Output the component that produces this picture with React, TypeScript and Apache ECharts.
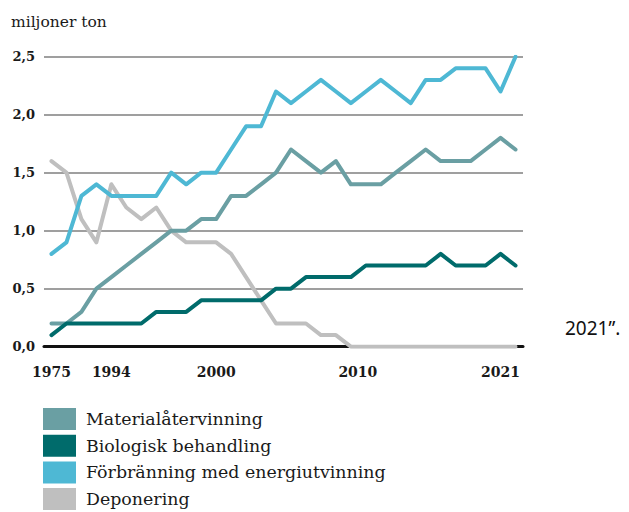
import React, { useEffect, useRef } from "react";
import * as echarts from "echarts";

const years: string[] = [
  "1975", "1980", "1985", "1990",
  "1994", "1995", "1996", "1997", "1998", "1999", "2000",
  "2001", "2002", "2003", "2004", "2005", "2006", "2007", "2008", "2009", "2010",
  "2011", "2012", "2013", "2014", "2015", "2016", "2017", "2018", "2019", "2020", "2021",
];
const shownYears: string[] = ["1975", "1994", "2000", "2010", "2021"];
const yTicks: number[] = [0, 0.5, 1, 1.5, 2, 2.5];

const material: number[] = [0.2, 0.2, 0.3, 0.5, 0.6, 0.7, 0.8, 0.9, 1.0, 1.0, 1.1, 1.1, 1.3, 1.3, 1.4, 1.5, 1.7, 1.6, 1.5, 1.6, 1.4, 1.4, 1.4, 1.5, 1.6, 1.7, 1.6, 1.6, 1.6, 1.7, 1.8, 1.7];
const biologisk: number[] = [0.1, 0.2, 0.2, 0.2, 0.2, 0.2, 0.2, 0.3, 0.3, 0.3, 0.4, 0.4, 0.4, 0.4, 0.4, 0.5, 0.5, 0.6, 0.6, 0.6, 0.6, 0.7, 0.7, 0.7, 0.7, 0.7, 0.8, 0.7, 0.7, 0.7, 0.8, 0.7];
const forbranning: number[] = [0.8, 0.9, 1.3, 1.4, 1.3, 1.3, 1.3, 1.3, 1.5, 1.4, 1.5, 1.5, 1.7, 1.9, 1.9, 2.2, 2.1, 2.2, 2.3, 2.2, 2.1, 2.2, 2.3, 2.2, 2.1, 2.3, 2.3, 2.4, 2.4, 2.4, 2.2, 2.5];
const deponering: number[] = [1.6, 1.5, 1.1, 0.9, 1.4, 1.2, 1.1, 1.2, 1.0, 0.9, 0.9, 0.9, 0.8, 0.6, 0.4, 0.2, 0.2, 0.2, 0.1, 0.1, 0, 0, 0, 0, 0, 0, 0, 0, 0, 0, 0, 0];

const seriesNames: string[] = [
  "Materialåtervinning",
  "Biologisk behandling",
  "Förbränning med energiutvinning",
  "Deponering",
];
const colors: string[] = ["#6a9fa3", "#006b6b", "#4eb8d4", "#bfbfbf"];

const serif = "DejaVu Serif";

export default function App() {
  const ref = useRef<HTMLDivElement>(null);
  useEffect(() => {
    if (!ref.current) return;
    const chart = echarts.init(ref.current, null, { renderer: "svg" });
    const datasets = [material, biologisk, forbranning, deponering];
    const zs = [3, 4, 5, 2];
    chart.setOption({
      animation: false,
      backgroundColor: "#ffffff",
      grid: { left: 44, right: 106, top: 56.7, bottom: 165.3, containLabel: false },
      legend: {
        orient: "vertical",
        left: 43,
        top: 408,
        height: 140,
        padding: 0,
        itemWidth: 33,
        itemHeight: 22,
        itemGap: 4.7,
        icon: "rect",
        data: seriesNames,
        selectedMode: false,
        textStyle: {
          fontFamily: serif,
          fontSize: 17.4,
          color: "#1a1a1a",
          lineHeight: 22,
          padding: [0, 0, 0, 5],
        },
      },
      xAxis: {
        type: "category",
        data: years,
        boundaryGap: true,
        axisTick: { show: false },
        axisLine: { show: true, lineStyle: { color: "#111", width: 3 } },
        splitLine: { show: false },
        axisLabel: {
          interval: (idx: number, val: string) => shownYears.includes(val),
          margin: 18,
          fontFamily: serif,
          fontWeight: "bold",
          fontSize: 14,
          color: "#1a1a1a",
          formatter: (val: string) => {
            if (val === "2000") return "{r|" + val + "}";
            if (val === "2010") return "{m|" + val + "}";
            if (val === "2021") return "{l|" + val + "}";
            return "{n|" + val + "}";
          },
          rich: {
            n: { fontFamily: serif, fontWeight: "bold", fontSize: 14, color: "#1a1a1a" },
            r: { fontFamily: serif, fontWeight: "bold", fontSize: 14, color: "#1a1a1a", padding: [0, 0, 0, 30] },
            m: { fontFamily: serif, fontWeight: "bold", fontSize: 14, color: "#1a1a1a", padding: [0, 0, 0, 14] },
            l: { fontFamily: serif, fontWeight: "bold", fontSize: 14, color: "#1a1a1a", padding: [0, 30, 0, 0] },
          },
        },
      },
      yAxis: {
        type: "value",
        min: yTicks[0],
        max: yTicks[yTicks.length - 1],
        interval: 0.5,
        axisLine: { show: false },
        axisTick: { show: false },
        splitLine: { show: true, lineStyle: { color: "#7f7f7f", width: 1.5 } },
        axisLabel: {
          margin: 9,
          fontFamily: serif,
          fontWeight: "bold",
          fontSize: 13,
          color: "#1a1a1a",
          formatter: (v: number) => v.toFixed(1).replace(".", ","),
        },
      },
      graphic: [
        {
          type: "text",
          left: 11,
          top: 14,
          style: { text: "miljoner ton", fontFamily: serif, fontSize: 15.5, fill: "#1a1a1a" },
        },
        {
          type: "text",
          left: 565,
          top: 318,
          style: { text: "2021”.", fontFamily: "Noto Sans", fontSize: 19, fill: "#111" },
        },
      ],
      series: seriesNames.map((name, i) => ({
        name,
        type: "line",
        data: datasets[i],
        z: zs[i],
        symbol: "none",
        showSymbol: false,
        lineStyle: { color: colors[i], width: 4, join: "round", cap: "round" },
        itemStyle: { color: colors[i] },
        emphasis: { disabled: true },
      })),
    });
    return () => chart.dispose();
  }, []);
  return <div ref={ref} style={{ position: "fixed", left: 0, top: 0, width: 629, height: 512 }} />;
}
